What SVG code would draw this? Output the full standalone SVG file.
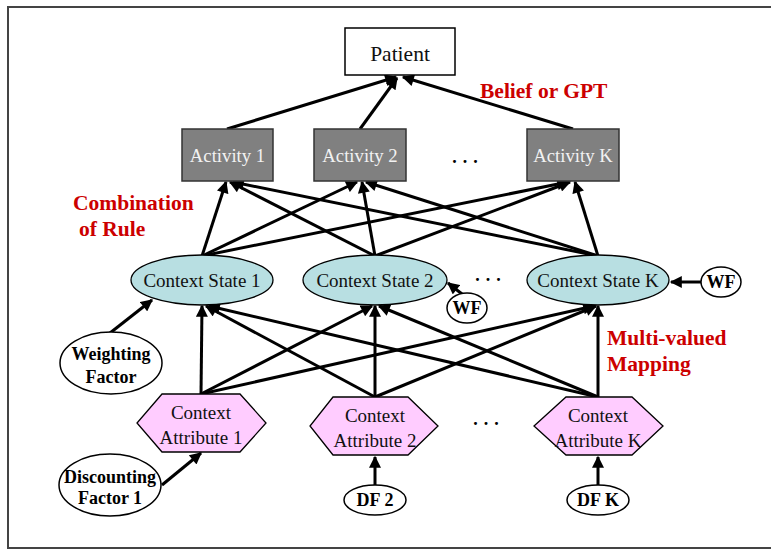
<svg xmlns="http://www.w3.org/2000/svg" width="771" height="553" viewBox="0 0 771 553">
<style>
.t{font-family:"Liberation Serif","Times New Roman",serif;font-size:19px;text-anchor:middle;fill:#111}
.tw{font-family:"Liberation Serif","Times New Roman",serif;font-size:18.7px;text-anchor:middle;fill:#f2f2f2}
.b{font-family:"Liberation Serif","Times New Roman",serif;font-size:18px;font-weight:bold;text-anchor:middle;fill:#000}
.r{font-family:"Liberation Serif","Times New Roman",serif;font-size:21.5px;font-weight:bold;fill:#cc0000}
.e{stroke:#000;stroke-width:3;fill:none;marker-end:url(#ah)}
.cs{fill:#b8dfe2;stroke:#000;stroke-width:1.3}
.ca{fill:#ffccff;stroke:#000;stroke-width:1.3}
.act{fill:#808080;stroke:#333;stroke-width:1.5}
.wf{fill:#fff;stroke:#000;stroke-width:1.5}
.dots{font-family:"Liberation Serif",serif;font-size:18px;font-weight:bold;fill:#000;text-anchor:middle}
</style>
<defs>
<marker id="ah" viewBox="0 0 10 10" refX="9" refY="5" markerWidth="13" markerHeight="12" markerUnits="userSpaceOnUse" orient="auto">
<path d="M0,0 L10,5 L0,10 z" fill="#000"/>
</marker>
</defs>
<rect x="8" y="7" width="790" height="541" fill="#fff" stroke="#444" stroke-width="2"/>
<g id="connectors">
<line class="e" x1="227" y1="129" x2="396" y2="77"/>
<line class="e" x1="360" y1="129" x2="397" y2="78"/>
<line class="e" x1="573" y1="129" x2="403" y2="77"/>
<line class="e" x1="202" y1="256" x2="226" y2="182"/>
<line class="e" x1="375" y1="256" x2="230" y2="182"/>
<line class="e" x1="598" y1="256" x2="233" y2="182"/>
<line class="e" x1="202" y1="256" x2="357" y2="182"/>
<line class="e" x1="375" y1="256" x2="362" y2="182"/>
<line class="e" x1="598" y1="256" x2="366" y2="182"/>
<line class="e" x1="202" y1="256" x2="568" y2="182"/>
<line class="e" x1="375" y1="256" x2="570" y2="182"/>
<line class="e" x1="598" y1="256" x2="575" y2="182"/>
<line class="e" x1="201" y1="394" x2="202" y2="306"/>
<line class="e" x1="201" y1="394" x2="372" y2="306"/>
<line class="e" x1="201" y1="394" x2="594" y2="306"/>
<line class="e" x1="375" y1="397" x2="206" y2="306"/>
<line class="e" x1="375" y1="397" x2="375" y2="306"/>
<line class="e" x1="375" y1="397" x2="596" y2="306"/>
<line class="e" x1="598" y1="397" x2="209" y2="306"/>
<line class="e" x1="598" y1="397" x2="379" y2="306"/>
<line class="e" x1="598" y1="397" x2="598" y2="306"/>
<line class="e" x1="110" y1="333" x2="152" y2="300"/>
<line class="e" x1="462" y1="294" x2="448" y2="283"/>
<line class="e" x1="701" y1="282" x2="671" y2="282"/>
<line class="e" x1="162" y1="485" x2="201" y2="453"/>
<line class="e" x1="375" y1="486" x2="375" y2="457"/>
<line class="e" x1="598" y1="486" x2="598" y2="457"/>
</g>
<g id="patient"><rect x="345" y="28" width="110" height="47" fill="#fff" stroke="#000" stroke-width="1.5"/><text class="t" x="400" y="61" style="font-size:21.5px">Patient</text></g>
<g id="activity1"><rect class="act" x="182" y="129" width="91" height="52"/><text class="tw" x="227.5" y="162">Activity 1</text></g>
<g id="activity2"><rect class="act" x="314" y="129" width="92" height="52"/><text class="tw" x="360" y="162">Activity 2</text></g>
<g id="activityK"><rect class="act" x="527" y="129" width="92" height="52"/><text class="tw" x="573" y="162">Activity K</text></g>
<text class="dots" x="465" y="168">· · ·</text>
<g id="cs1"><ellipse class="cs" cx="202" cy="280" rx="71" ry="25"/><text class="t" x="202" y="287">Context State 1</text></g>
<g id="cs2"><ellipse class="cs" cx="375" cy="280" rx="72" ry="25"/><text class="t" x="375" y="287">Context State 2</text></g>
<g id="csK"><ellipse class="cs" cx="598" cy="280" rx="71" ry="25"/><text class="t" x="598" y="287">Context State K</text></g>
<text class="dots" x="488" y="286">· · ·</text>
<g id="wf2"><ellipse class="wf" cx="467" cy="308" rx="20" ry="15"/><text class="b" x="467" y="314">WF</text></g>
<g id="wfK"><ellipse class="wf" cx="721" cy="282" rx="20" ry="15"/><text class="b" x="721" y="288">WF</text></g>
<g id="weighting"><ellipse class="wf" cx="111" cy="363" rx="51" ry="31"/><text class="b" x="111" y="360">Weighting</text><text class="b" x="111" y="383">Factor</text></g>
<g id="ca1"><polygon class="ca" points="162,394 240,394 266,423 240,452 162,452 137,423"/><text class="t" x="201" y="419">Context</text><text class="t" x="201" y="444">Attribute 1</text></g>
<g id="ca2"><polygon class="ca" points="333,397 408,397 438,426 408,455 333,455 310,426"/><text class="t" x="375" y="422">Context</text><text class="t" x="375" y="447">Attribute 2</text></g>
<g id="caK"><polygon class="ca" points="566,397 632,397 663,426 632,455 566,455 534,426"/><text class="t" x="598" y="422">Context</text><text class="t" x="598" y="447">Attribute K</text></g>
<text class="dots" x="486" y="430">· · ·</text>
<g id="df1"><ellipse class="wf" cx="110" cy="485" rx="51" ry="31"/><text class="b" x="110" y="483">Discounting</text><text class="b" x="110" y="504">Factor 1</text></g>
<g id="df2"><ellipse class="wf" cx="375" cy="500" rx="31" ry="15"/><text class="b" x="375" y="506">DF 2</text></g>
<g id="dfK"><ellipse class="wf" cx="598" cy="500" rx="31" ry="15"/><text class="b" x="598" y="506">DF K</text></g>
<text class="r" x="480" y="98">Belief or GPT</text>
<text class="r" x="73" y="210">Combination</text>
<text class="r" x="79" y="236">of Rule</text>
<text class="r" x="607" y="345">Multi-valued</text>
<text class="r" x="607" y="371">Mapping</text>
</svg>
